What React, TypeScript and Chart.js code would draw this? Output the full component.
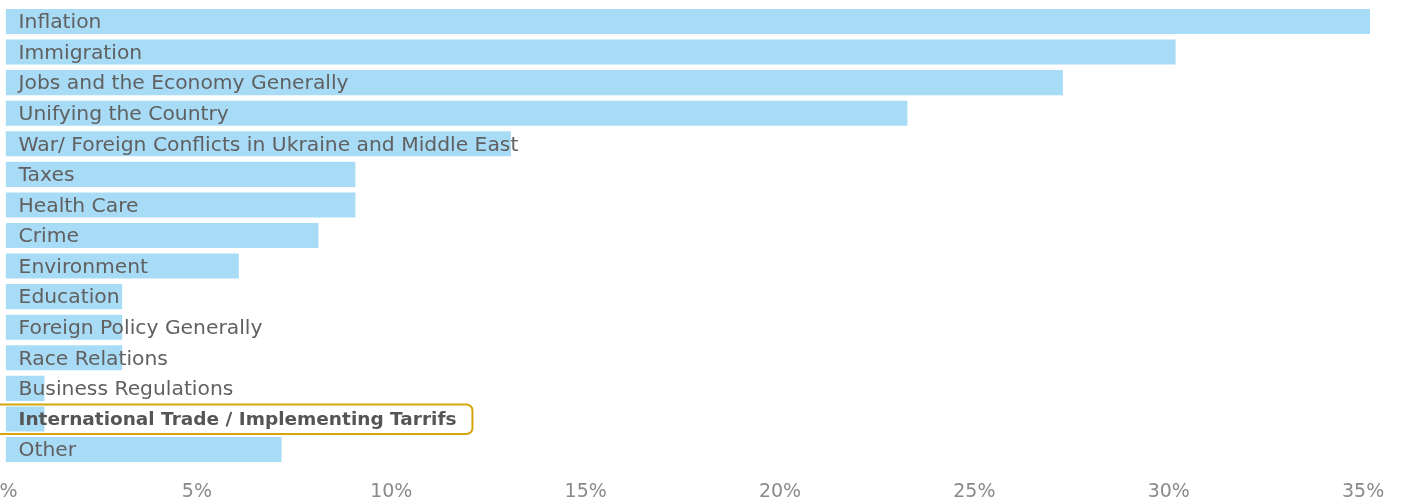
import React, { useEffect, useRef } from "react";
import { Chart, registerables } from "chart.js";

Chart.register(...registerables);

const categories = [
  "Inflation",
  "Immigration",
  "Jobs and the Economy Generally",
  "Unifying the Country",
  "War/ Foreign Conflicts in Ukraine and Middle East",
  "Taxes",
  "Health Care",
  "Crime",
  "Environment",
  "Education",
  "Foreign Policy Generally",
  "Race Relations",
  "Business Regulations",
  "International Trade / Implementing Tarrifs",
  "Other",
];

const values = [35.1, 30.1, 27.2, 23.2, 13.0, 9.0, 9.0, 8.05, 6.0, 3.0, 3.0, 3.0, 1.0, 1.0, 7.1];

const xTickValues = [0, 5, 10, 15, 20, 25, 30, 35];
const highlightIndex = 13;

const FONT = "'DejaVu Sans', sans-serif";
const LABEL_SIZE = 20.3;
const BOLD_SIZE = 18.5;
const TICK_SIZE = 19;
const LABEL_PAD = 13;
const PX_PER_PCT = 38.88;
const X_MAX = 36;

export default function App() {
  const canvasRef = useRef<HTMLCanvasElement>(null);
  const wrapRef = useRef<HTMLDivElement>(null);

  useEffect(() => {
    document.body.style.margin = "0";
    const canvas = canvasRef.current!;

    const highlightPlugin = {
      id: "highlightBox",
      afterDraw(chart: any) {
        const { ctx, chartArea, scales } = chart;
        const y = scales.y.getPixelForValue(highlightIndex);
        ctx.save();
        ctx.font = `bold ${BOLD_SIZE}px ${FONT}`;
        const w = ctx.measureText(categories[highlightIndex]).width;
        const x0 = chartArea.left + LABEL_PAD;
        const right = x0 + w + 16;
        const left = chartArea.left - 12;
        ctx.strokeStyle = "#d4a60b";
        ctx.lineWidth = 2;
        ctx.beginPath();
        ctx.roundRect(left, y - 14.5, right - left, 29.5, 6);
        ctx.stroke();
        ctx.restore();
      },
    };

    const chart = new Chart(canvas, {
      type: "bar",
      data: {
        labels: categories,
        datasets: [
          {
            data: values,
            backgroundColor: "#a8dcf6",
            categoryPercentage: 1,
            barPercentage: 0.82,
          },
        ],
      },
      options: {
        indexAxis: "y",
        responsive: false,
        maintainAspectRatio: false,
        animation: false,
        layout: { padding: { top: 6.2, left: 0, right: 0, bottom: 0 } },
        plugins: {
          legend: { display: false },
          tooltip: { enabled: false },
          title: { display: false },
        },
        scales: {
          x: {
            min: 0,
            max: X_MAX,
            afterBuildTicks: (scale: any) => {
              scale.ticks = xTickValues.map((v) => ({ value: v }));
            },
            afterFit: (scale: any) => {
              scale.height = 37.2;
            },
            ticks: {
              callback: (v: any) => v + "%",
              color: "#8a8a8a",
              font: { family: FONT, size: TICK_SIZE },
              padding: 15.5,
              maxRotation: 0,
              autoSkip: false,
              labelOffset: -3,
            },
            grid: { display: false, drawTicks: false },
            border: { display: false },
          },
          y: {
            afterFit: (scale: any) => {
              scale.paddingTop = 0;
              scale.paddingBottom = 0;
            },
            ticks: {
              z: 1,
              mirror: true,
              padding: LABEL_PAD,
              labelOffset: 1.5,
              color: (ctx: any) => (ctx.index === highlightIndex ? "#555555" : "#606060"),
              font: (ctx: any) => ({
                family: FONT,
                size: ctx.index === highlightIndex ? BOLD_SIZE : LABEL_SIZE,
                weight: ctx.index === highlightIndex ? "bold" : "normal",
              }),
            },
            grid: { display: false, drawTicks: false },
            border: { display: false },
          },
        },
      },
      plugins: [highlightPlugin],
    } as any);

    const a = chart.chartArea.left;
    chart.resize(Math.round(a + X_MAX * PX_PER_PCT), 502);
    const a2 = chart.chartArea.left;
    if (wrapRef.current) wrapRef.current.style.left = `${6 - a2}px`;

    return () => chart.destroy();
  }, []);

  return (
    <div style={{ position: "fixed", left: 0, top: 0, width: 1402, height: 502, overflow: "hidden", background: "#fff" }}>
      <div ref={wrapRef} style={{ position: "absolute", left: 0, top: 0 }}>
        <canvas ref={canvasRef} width={1460} height={502} />
      </div>
    </div>
  );
}
